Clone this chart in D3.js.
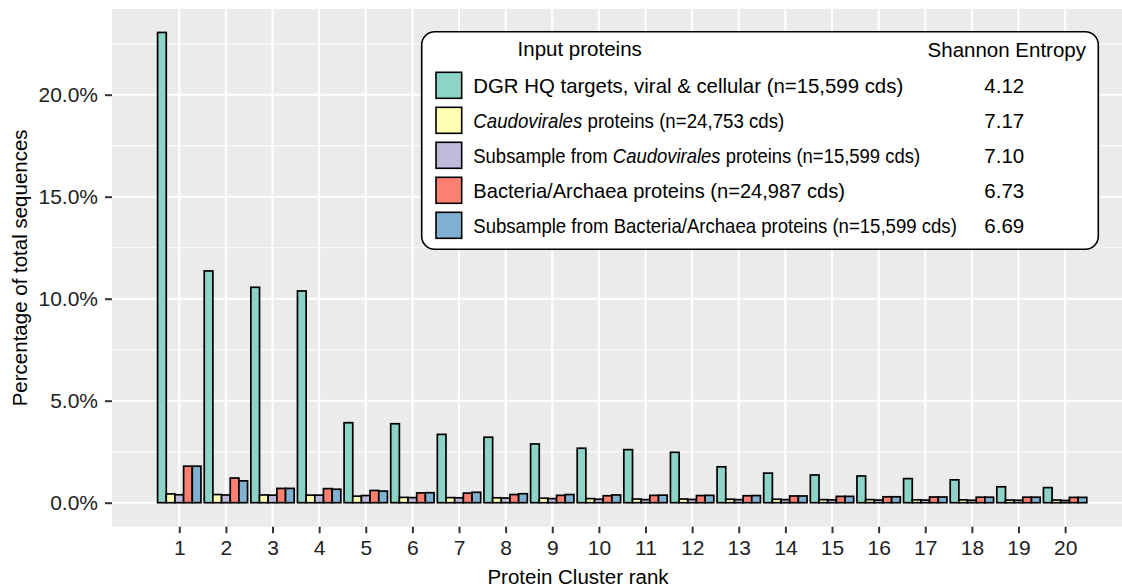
<!DOCTYPE html>
<html>
<head>
<meta charset="utf-8">
<script src="https://cdn.jsdelivr.net/npm/d3@7"></script>
<style>
  html, body { margin: 0; padding: 0; background: #ffffff; }
  svg { display: block; font-family: "Liberation Sans", Arial, Helvetica, sans-serif; }
</style>
</head>
<body>
<svg id="chart" width="1122" height="587"></svg>
<script>
// Protein cluster ranks on the x axis
const ranks = d3.range(1, 21);

// Percentage of total sequences per cluster rank, one array per protein set
const dgrTargets      = [23.05, 11.36, 10.56, 10.38, 3.92, 3.87, 3.35, 3.21, 2.88, 2.67, 2.60, 2.47, 1.76, 1.45, 1.36, 1.31, 1.18, 1.12, 0.78, 0.74];
const caudovirales    = [0.43, 0.40, 0.38, 0.37, 0.32, 0.26, 0.25, 0.24, 0.22, 0.20, 0.18, 0.18, 0.17, 0.17, 0.15, 0.15, 0.14, 0.14, 0.13, 0.13];
const caudoSubsample  = [0.39, 0.38, 0.37, 0.37, 0.35, 0.25, 0.24, 0.23, 0.20, 0.17, 0.15, 0.16, 0.15, 0.15, 0.14, 0.13, 0.13, 0.12, 0.12, 0.11];
const bactArchaea     = [1.79, 1.21, 0.70, 0.69, 0.60, 0.48, 0.47, 0.40, 0.36, 0.34, 0.36, 0.35, 0.34, 0.33, 0.31, 0.29, 0.28, 0.27, 0.27, 0.26];
const bactSubsample   = [1.79, 1.07, 0.70, 0.66, 0.57, 0.49, 0.51, 0.44, 0.40, 0.38, 0.37, 0.36, 0.35, 0.33, 0.31, 0.29, 0.28, 0.27, 0.27, 0.26];

// Legend labels (parts marked italic are taxon names) and entropy values
const seriesLabels = [
  [["DGR HQ targets, viral & cellular (n=15,599 cds)", false]],
  [["Caudovirales", true], [" proteins (n=24,753 cds)", false]],
  [["Subsample from ", false], ["Caudovirales", true], [" proteins (n=15,599 cds)", false]],
  [["Bacteria/Archaea proteins (n=24,987 cds)", false]],
  [["Subsample from Bacteria/Archaea proteins (n=15,599 cds)", false]]
];
const entropyValues = ["4.12", "7.17", "7.10", "6.73", "6.69"];
const seriesColors = ["#8DD3C7", "#FFFFB3", "#BEBADA", "#FB8072", "#80B1D3"];

const yTicks = [0, 5, 10, 15, 20];
const yMinor = [2.5, 7.5, 12.5, 17.5, 22.5];

const series = [dgrTargets, caudovirales, caudoSubsample, bactArchaea, bactSubsample];

// Layout
const panel = { left: 112, right: 1122, top: 9, bottom: 526.7 };
const svg = d3.select("#chart");

const x = d3.scaleLinear().domain([-0.443, 21.22]).range([panel.left, panel.right]);
const y = d3.scaleLinear().domain([-1.176, 24.2]).range([panel.bottom, panel.top]);

// Panel background and grid
svg.append("rect")
  .attr("x", panel.left).attr("y", panel.top)
  .attr("width", panel.right - panel.left).attr("height", panel.bottom - panel.top)
  .attr("fill", "#EBEBEB");

svg.append("g").selectAll("line").data(yMinor).join("line")
  .attr("x1", panel.left).attr("x2", panel.right)
  .attr("y1", d => y(d)).attr("y2", d => y(d))
  .attr("stroke", "#ffffff").attr("stroke-width", 1.1);

svg.append("g").selectAll("line").data(yTicks).join("line")
  .attr("x1", panel.left).attr("x2", panel.right)
  .attr("y1", d => y(d)).attr("y2", d => y(d))
  .attr("stroke", "#ffffff").attr("stroke-width", 2.1);

svg.append("g").selectAll("line").data(ranks).join("line")
  .attr("x1", d => x(d)).attr("x2", d => x(d))
  .attr("y1", panel.top).attr("y2", panel.bottom)
  .attr("stroke", "#ffffff").attr("stroke-width", 2.1);

// Dodged bars
const groupWidth = 0.93;
const barWidth = groupWidth / series.length;
const barData = [];
series.forEach((vals, si) => {
  vals.forEach((v, ri) => barData.push({ rank: ranks[ri], s: si, v }));
});

svg.append("g").selectAll("rect").data(barData).join("rect")
  .attr("x", d => x(d.rank - groupWidth / 2 + d.s * barWidth))
  .attr("width", d => x(barWidth) - x(0))
  .attr("y", d => y(d.v))
  .attr("height", d => y(0) - y(d.v))
  .attr("fill", d => seriesColors[d.s])
  .attr("stroke", "#000000")
  .attr("stroke-width", 1.7);

// Axes
const yAxis = d3.axisLeft(y)
  .tickValues(yTicks)
  .tickFormat(d => d.toFixed(1) + "%")
  .tickSize(7).tickPadding(7);
const gy = svg.append("g").attr("transform", `translate(${panel.left},0)`).call(yAxis);
gy.select(".domain").remove();
gy.selectAll(".tick line").attr("stroke", "#333333").attr("stroke-width", 2);
gy.selectAll(".tick text").attr("font-size", 21).attr("fill", "#222222")
  .attr("font-family", "Liberation Sans, Arial, sans-serif");

const xAxis = d3.axisBottom(x)
  .tickValues(ranks)
  .tickFormat(d3.format("d"))
  .tickSize(6.5).tickPadding(6.5);
const gx = svg.append("g").attr("transform", `translate(0,${panel.bottom})`).call(xAxis);
gx.select(".domain").remove();
gx.selectAll(".tick line").attr("stroke", "#333333").attr("stroke-width", 2);
gx.selectAll(".tick text").attr("font-size", 21).attr("fill", "#222222")
  .attr("font-family", "Liberation Sans, Arial, sans-serif");

// Axis titles
svg.append("text")
  .attr("x", 578).attr("y", 584)
  .attr("text-anchor", "middle")
  .attr("font-size", 20.5).attr("fill", "#000000")
  .text("Protein Cluster rank");

svg.append("text")
  .attr("transform", `translate(26.7,${(panel.top + panel.bottom) / 2}) rotate(-90)`)
  .attr("text-anchor", "middle")
  .attr("font-size", 20.5).attr("fill", "#000000")
  .text("Percentage of total sequences");

// Legend box
const legend = svg.append("g");
legend.append("rect")
  .attr("x", 421.7).attr("y", 31.7)
  .attr("width", 676.6).attr("height", 217.6)
  .attr("rx", 13).attr("ry", 13)
  .attr("fill", "#ffffff").attr("stroke", "#000000").attr("stroke-width", 1.6);

legend.append("text")
  .attr("x", 579.7).attr("y", 56)
  .attr("text-anchor", "middle").attr("font-size", 20.5)
  .text("Input proteins");

legend.append("text")
  .attr("x", 1086).attr("y", 56.5)
  .attr("text-anchor", "end").attr("font-size", 20.5)
  .text("Shannon Entropy");

// Widths of the label column, one per row
const labelWidths = [430, 311, 447, 372, 484];

const rowY = i => 85.3 + i * 35;
const rows = legend.selectAll("g.row").data(seriesLabels).join("g").attr("class", "row");

rows.append("rect")
  .attr("x", 436).attr("y", (d, i) => rowY(i) - 13)
  .attr("width", 25.7).attr("height", 26)
  .attr("fill", (d, i) => seriesColors[i])
  .attr("stroke", "#000000").attr("stroke-width", 1.6);

// Each label is set at its natural width, then narrowed horizontally to fit its column
rows.each(function (d, i) {
  const g = d3.select(this).append("g");
  const t = g.append("text")
    .attr("x", 0).attr("y", 0)
    .attr("font-size", 20.5);
  t.selectAll("tspan").data(d).join("tspan")
    .attr("font-style", p => p[1] ? "italic" : "normal")
    .text(p => p[0]);
  const natural = t.node().getComputedTextLength();
  const sx = Math.min(1, labelWidths[i] / natural);
  g.attr("transform", `translate(473.3,${rowY(i) + 7.3}) scale(${sx},1)`);
});

rows.append("text")
  .attr("x", 984.3).attr("y", (d, i) => rowY(i) + 7.3)
  .attr("font-size", 20.5)
  .text((d, i) => entropyValues[i]);
</script>
</body>
</html>
